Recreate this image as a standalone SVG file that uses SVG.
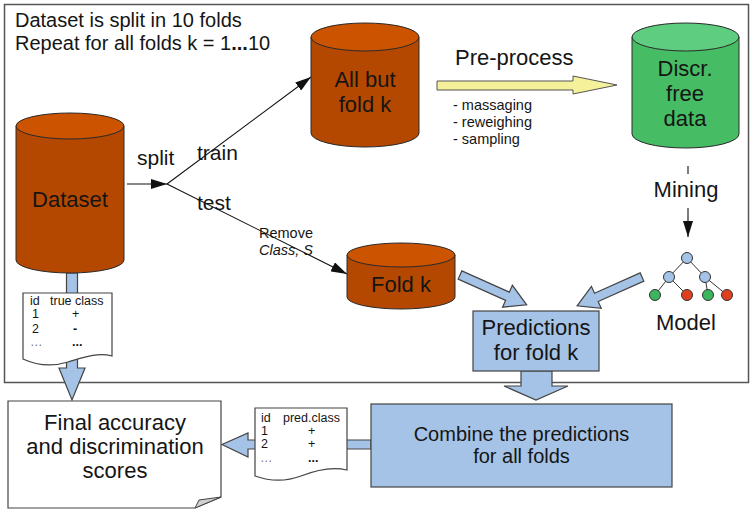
<svg xmlns="http://www.w3.org/2000/svg" width="751" height="509" viewBox="0 0 751 509">
<style>
text{font-family:"Liberation Sans",Arial,sans-serif;fill:#151515}
.t22{font-size:22px}
.t20{font-size:20px}
.t21{font-size:21px}
.t14{font-size:14.5px}
.t12{font-size:12.5px}
.mid{text-anchor:middle}
.ob{fill:#b54800;stroke:#2a2a2a;stroke-width:1}
.ot{fill:#cc5300;stroke:#2a2a2a;stroke-width:1}
.gb{fill:#46bd64;stroke:#2a2a2a;stroke-width:1}
.gt{fill:#5fcd7f;stroke:#2a2a2a;stroke-width:1}
.blue{fill:#a5c3e6;stroke:#444;stroke-width:1.2}
.line{stroke:#111;stroke-width:1.1;fill:none}
.doc{fill:#fff;stroke:#444;stroke-width:1.2}
.edge{stroke:#333;stroke-width:1;fill:none}
.nb{fill:#a5c3e6;stroke:#333;stroke-width:1}
.ng{fill:#3cb55e;stroke:#333;stroke-width:1}
.nr{fill:#e0401f;stroke:#333;stroke-width:1}
</style>
<defs>
<marker id="ah" markerUnits="userSpaceOnUse" markerWidth="16" markerHeight="10" refX="16" refY="5" orient="auto">
<path d="M0,0 L16,5 L0,10 Z" fill="#111"/>
</marker>
</defs>

<rect id="frame" x="4.5" y="4.5" width="744" height="378" fill="#fff" stroke="#555" stroke-width="1.5"/>

<g id="caption">
<text class="t20" x="15" y="27">Dataset is split in 10 folds</text>
<text class="t20" x="15" y="50">Repeat for all folds k = 1<tspan font-weight="bold">...</tspan>10</text>
</g>

<g id="connectors">
<line class="line" x1="127" y1="184" x2="167" y2="184" marker-end="url(#ah)"/>
<line class="line" x1="167" y1="184" x2="311" y2="77" marker-end="url(#ah)"/>
<line class="line" x1="167" y1="184" x2="347" y2="274" marker-end="url(#ah)"/>
<line class="line" x1="688" y1="166" x2="688" y2="174" stroke="#444"/>
<line class="line" x1="688" y1="208" x2="688" y2="237" marker-end="url(#ah)"/>
<polygon id="preprocess-arrow" points="437,81 573,81 573,76 617,85 573,94 573,90 437,90" fill="#f5f09a" stroke="#555" stroke-width="1"/>
<polygon class="blue" points="0,-4.5 52,-4.5 52,-12 73,0 52,12 52,4.5 0,4.5" transform="translate(460,275) rotate(24.1)"/>
<polygon class="blue" points="0,-4.5 50,-4.5 50,-12 71,0 50,12 50,4.5 0,4.5" transform="translate(642,277) rotate(156)"/>
<polygon class="blue" points="521,371 552,371 552,386 568,386 536,400 504,386 521,386"/>
<polygon class="blue" points="371,440 248,440 248,433 222,444.5 248,457 248,449 371,449"/>
<polygon class="blue" points="66.5,273 77.5,273 77.5,368 85,368 72,400 59,368 66.5,368"/>
</g>

<g id="labels">
<text class="t21" x="137" y="165">split</text>
<text class="t21" x="197" y="160">train</text>
<text class="t21" x="197" y="210">test</text>
<text class="t14" x="259" y="238">Remove</text>
<text class="t14" x="259" y="255" font-style="italic">Class, S</text>
<text class="t22" x="455" y="65">Pre-process</text>
<text class="t14" x="453" y="110">- massaging</text>
<text class="t14" x="453" y="127">- reweighing</text>
<text class="t14" x="453" y="144">- sampling</text>
<text class="t22 mid" x="686" y="197">Mining</text>
</g>

<g id="dataset">
<path class="ob" d="M16,126 L16,260 A54,13 0 0 0 124,260 L124,126 Z"/>
<ellipse class="ot" cx="70" cy="126" rx="54" ry="13"/>
<text class="t22 mid" x="70" y="207">Dataset</text>
</g>

<g id="allbut">
<path class="ob" d="M311,37 L311,133 A54,14 0 0 0 419,133 L419,37 Z"/>
<ellipse class="ot" cx="365" cy="37" rx="54" ry="14"/>
<text class="t22 mid" x="365" y="87">All but</text>
<text class="t22 mid" x="365" y="112">fold k</text>
</g>

<g id="discrfree">
<path class="gb" d="M632,37 L632,134 A53.5,14 0 0 0 739,134 L739,37 Z"/>
<ellipse class="gt" cx="685.5" cy="37" rx="53.5" ry="14"/>
<text class="t22 mid" x="685" y="76">Discr.</text>
<text class="t22 mid" x="685" y="101">free</text>
<text class="t22 mid" x="685" y="126">data</text>
</g>

<g id="foldk">
<path class="ob" d="M347,255 L347,297 A54,12 0 0 0 455,297 L455,255 Z"/>
<ellipse class="ot" cx="401" cy="255" rx="54" ry="12"/>
<text class="t22 mid" x="401" y="292">Fold k</text>
</g>

<g id="model">
<path class="edge" d="M687,258 L669,277 M687,258 L705,277 M669,277 L655,295 M669,277 L687,295 M705,277 L708,295 M705,277 L727,295"/>
<circle class="nb" cx="687" cy="258" r="5.5"/>
<circle class="nb" cx="669" cy="277" r="5.5"/>
<circle class="nb" cx="705" cy="277" r="5.5"/>
<circle class="ng" cx="655" cy="295" r="5.5"/>
<circle class="nr" cx="687" cy="295" r="5.5"/>
<circle class="ng" cx="708" cy="295" r="5.5"/>
<circle class="nr" cx="727" cy="295" r="5.5"/>
<text class="t22 mid" x="686" y="330">Model</text>
</g>

<g id="predictions">
<rect class="blue" x="473" y="311" width="126" height="60"/>
<text class="t22 mid" x="536" y="335">Predictions</text>
<text class="t22 mid" x="536" y="360">for fold k</text>
</g>

<g id="combine">
<rect class="blue" x="371" y="404" width="301" height="83"/>
<text class="t20 mid" x="521.5" y="441">Combine the predictions</text>
<text class="t20 mid" x="521.5" y="463">for all folds</text>
</g>

<g id="trueclass-table">
<path class="doc" d="M23,293 H112 V356 C97,352 82,358 68,362 C52,367 36,365 23,359 Z"/>
<text class="t12" x="30" y="305">id</text>
<text class="t12" x="50" y="305">true class</text>
<text class="t12" x="32" y="318">1</text>
<text class="t12" x="72" y="318">+</text>
<text class="t12" x="32" y="333">2</text>
<text class="t12" x="73" y="333" font-weight="bold">-</text>
<text class="t12" x="30" y="346" fill="#777" style="fill:#777">…</text>
<text class="t12" x="72" y="346" font-weight="bold">...</text>
</g>

<g id="predclass-table">
<path class="doc" d="M255,408 H347 V470 C331,466 316,470 301,476 C285,482 269,481 255,476 Z"/>
<text class="t12" x="261" y="422">id</text>
<text class="t12" x="283" y="422">pred.class</text>
<text class="t12" x="261" y="435">1</text>
<text class="t12" x="308" y="435">+</text>
<text class="t12" x="261" y="448">2</text>
<text class="t12" x="308" y="448">+</text>
<text class="t12" x="260" y="462" style="fill:#777">…</text>
<text class="t12" x="308" y="462" font-weight="bold">...</text>
</g>

<g id="final">
<path class="doc" d="M8,401 H221 V497 L195,508 H8 Z"/>
<path d="M221,497 L199,500 L195,508 Z" fill="#d0d0d0" stroke="#444" stroke-width="1"/>
<text class="t22 mid" x="115" y="430">Final accuracy</text>
<text class="t22 mid" x="115" y="454">and discrimination</text>
<text class="t22 mid" x="115" y="478">scores</text>
</g>
</svg>
